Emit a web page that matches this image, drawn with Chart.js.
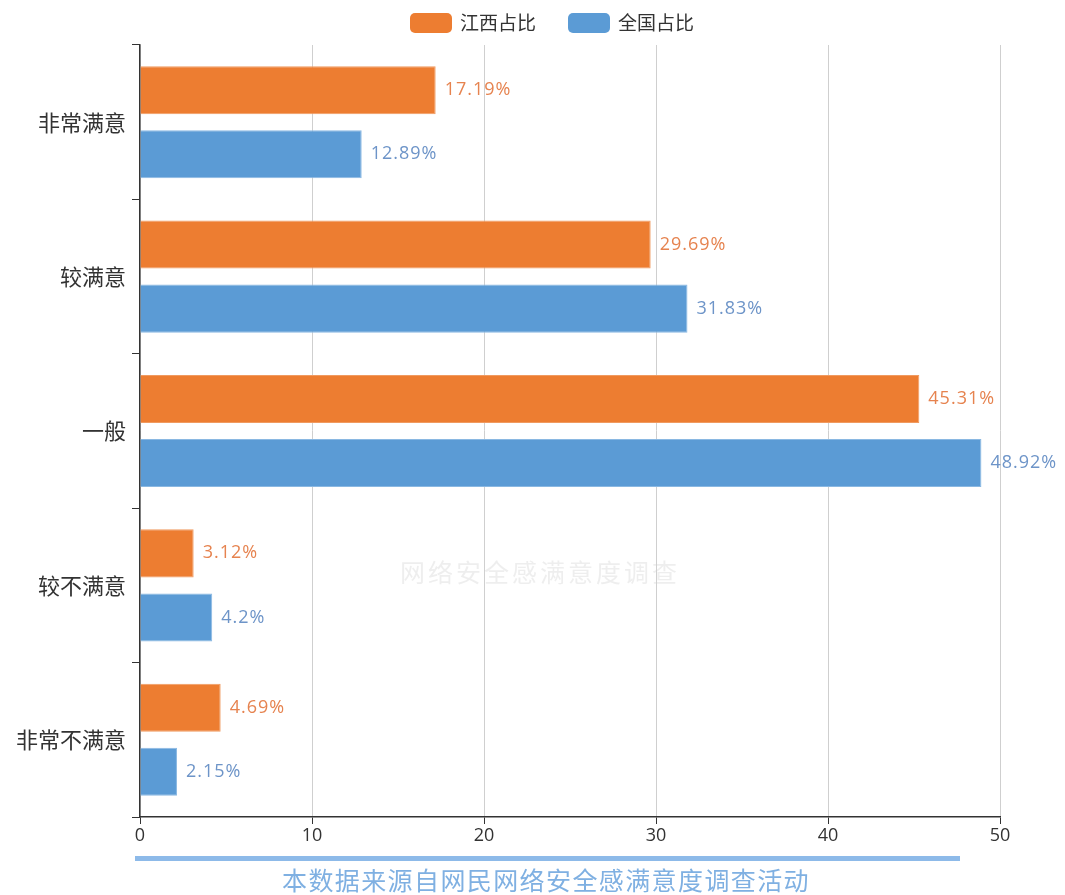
<!DOCTYPE html>
<html><head><meta charset="utf-8">
<script src="https://cdn.jsdelivr.net/npm/chart.js@4/dist/chart.umd.min.js"></script>
<style>html,body{margin:0;padding:0;background:#fff}#wrap{width:1065px;height:895px;position:relative}</style>
</head><body><div id="wrap"><canvas id="c" width="1065" height="895"></canvas></div>
<script>
const categories = ['非常满意','较满意','一般','较不满意','非常不满意'];
const jiangxi = [17.19, 29.69, 45.31, 3.12, 4.69];
const national = [12.89, 31.83, 48.92, 4.2, 2.15];
const seriesNames = ['江西占比','全国占比'];
const xTicks = [0,10,20,30,40,50];
const sourceText = '本数据来源自网民网络安全感满意度调查活动';
const watermark = '网络安全感满意度调查';

const CJK = '"Noto Sans CJK SC", "Noto Sans", sans-serif';
const NUM = '"Open Sans", "Noto Sans CJK SC", sans-serif';

const labelPlugin = {
  id:'labels',
  afterDatasetsDraw(chart){
    const ctx = chart.ctx;
    const colors = ['#E6834F','#6D94C8'];
    chart.data.datasets.forEach((ds,i)=>{
      const meta = chart.getDatasetMeta(i);
      meta.data.forEach((bar,j)=>{
        ctx.save();
        ctx.font = '18px ' + NUM;
        ctx.letterSpacing = '1px';
        ctx.fillStyle = colors[i];
        ctx.textAlign='left'; ctx.textBaseline='middle';
        ctx.fillText(ds.data[j] + '%', bar.x + 9, bar.y);
        ctx.restore();
      });
    });
  }
};
const legendPlugin = {
  id:'customLegend',
  afterDraw(chart){
    const ctx = chart.ctx;
    const items = [{x:410, tx:460}, {x:568, tx:618}];
    chart.data.datasets.forEach((ds,i)=>{
      const it = items[i];
      ctx.save();
      ctx.fillStyle = ds.backgroundColor;
      ctx.beginPath();
      ctx.roundRect(it.x, 13, 42, 20, 5);
      ctx.fill();
      ctx.font = '19px ' + CJK;
      ctx.fillStyle = '#333';
      ctx.textAlign='left'; ctx.textBaseline='middle';
      ctx.fillText(ds.label, it.tx, 23);
      ctx.restore();
    });
  }
};
const extraPlugin = {
  id:'extra',
  beforeDatasetsDraw(chart){
    const ctx = chart.ctx;
    ctx.save();
    ctx.font = '25px ' + CJK;
    ctx.letterSpacing = '3px';
    ctx.fillStyle = 'rgba(205,205,205,0.35)';
    ctx.textAlign='center'; ctx.textBaseline='middle';
    ctx.fillText(watermark, 540, 572);
    ctx.restore();
  },
  afterDraw(chart){
    const ctx = chart.ctx;
    ctx.save();
    ctx.fillStyle = '#8DBAE9';
    ctx.fillRect(135, 856, 825, 5);
    ctx.font = '25px ' + CJK;
    ctx.letterSpacing = '1.4px';
    ctx.fillStyle = '#7FB0E2';
    ctx.textAlign='left'; ctx.textBaseline='middle';
    ctx.fillText(sourceText, 282, 880);
    ctx.restore();
  }
};

new Chart(document.getElementById('c'), {
  type:'bar',
  data:{
    labels: categories,
    datasets:[
      {label:seriesNames[0], data:jiangxi, backgroundColor:'#ED7D31', borderColor:'#F09A60', borderWidth:1,
       categoryPercentage:0.83, barPercentage:0.75},
      {label:seriesNames[1], data:national, backgroundColor:'#5B9BD5', borderColor:'#8AB8E2', borderWidth:1,
       categoryPercentage:0.83, barPercentage:0.75}
    ]
  },
  options:{
    responsive:false, animation:false, indexAxis:'y',
    layout:{padding:{left:0,right:65,top:45,bottom:48}},
    plugins:{ legend:{display:false}, tooltip:{enabled:false} },
    scales:{
      x:{min:0,max:50, afterBuildTicks(s){ s.ticks = xTicks.map(v=>({value:v})); },
        afterFit(s){ s.height = 30; },
        ticks:{font:{family:NUM,size:18}, color:'#333', padding:1},
        grid:{color:'#cfcfcf', lineWidth:1, tickLength:7, tickColor:'#333', drawOnChartArea:true},
        border:{display:true,color:'#333',width:1.5}
      },
      y:{
        afterFit(s){ s.width = 140; },
        ticks:{font:{family:CJK,size:22}, color:'#333', padding:6},
        grid:{offset:true, drawOnChartArea:false, tickLength:8, tickColor:'#333'},
        border:{display:true,color:'#333',width:1.5}
      }
    }
  },
  plugins:[labelPlugin, legendPlugin, extraPlugin]
});
</script></body></html>
